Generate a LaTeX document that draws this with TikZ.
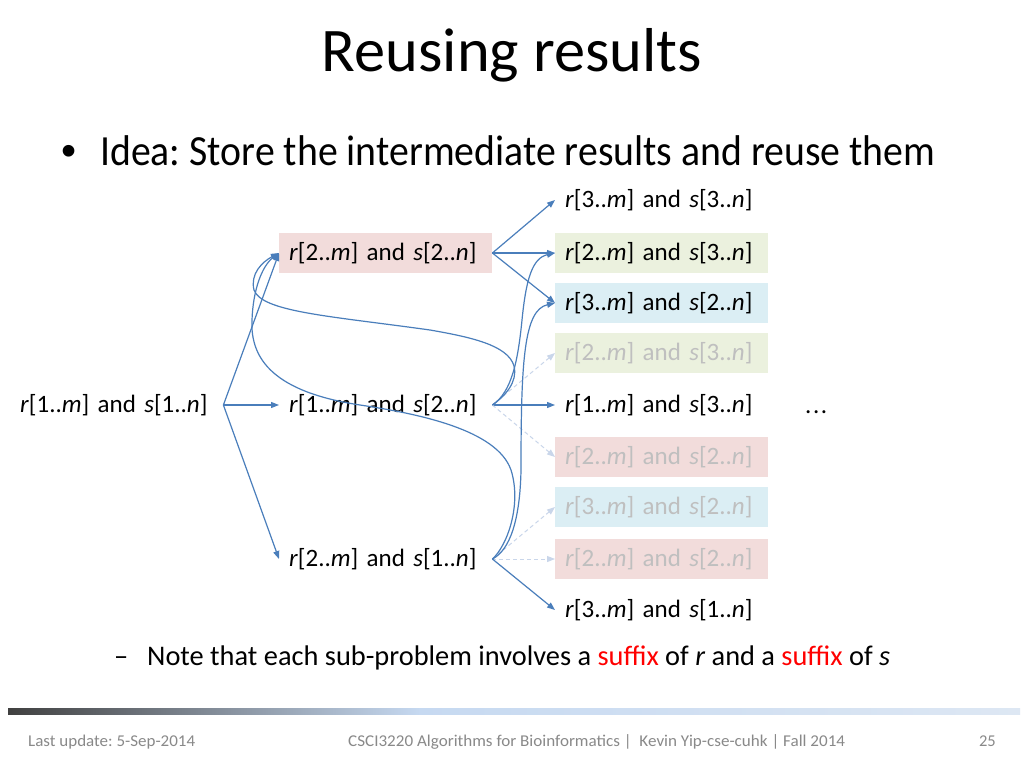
\documentclass[tikz,border=0pt]{standalone}
\usepackage{graphicx}
\usepackage{fontspec}
\setmainfont{Carlito}
\newfontfamily\bulletfont{Liberation Sans}
\usetikzlibrary{arrows.meta}
\definecolor{arr}{HTML}{4A7EBB}
\definecolor{faint}{HTML}{C9D6EA}
\definecolor{pinkbox}{HTML}{F2DCDB}
\definecolor{greenbox}{HTML}{EBF1DE}
\definecolor{bluebox}{HTML}{DBEEF4}
\definecolor{fadetext}{HTML}{BFBFBF}
\definecolor{foot}{HTML}{898989}
\definecolor{barA}{HTML}{404040}
\definecolor{barB}{HTML}{C6D9F1}
\definecolor{barC}{HTML}{DDE7F3}
\newcommand{\rs}[4]{\textit{r}[#1..\textit{m}] and \textit{s}[#3..\textit{n}]}
\frenchspacing
\begin{document}
\begin{tikzpicture}[x=1pt,y=-1pt,
  sub/.style={rectangle, text width=193pt, inner xsep=10pt, inner ysep=0pt,
    minimum height=40pt, align=left, font=\fontsize{25}{30}\selectfont, anchor=west},
  faded/.style={text=fadetext},
  link/.style={draw=arr, line width=1.2pt, -{Triangle[length=8pt,width=6pt]}},
  flink/.style={draw=faint, line width=1pt, dashed, dash pattern=on 4pt off 3pt, -{Triangle[length=8pt,width=6pt]}},
  foottext/.style={text=foot, font=\fontsize{16.5}{20}\selectfont, inner sep=0pt, anchor=base}
]
\useasboundingbox (0,0) rectangle (1024,768);
\fill[white] (0,0) rectangle (1024,768);

% title and bullets
\node[anchor=base, inner sep=0pt, font=\fontsize{62}{70}\selectfont] (title) at (512,71) {\resizebox{380pt}{\height}{Reusing results}};
\node[anchor=base west, inner sep=0pt, font=\bulletfont\fontsize{43}{50}\selectfont] (bul) at (61,165) {•};
\node[anchor=base west, inner sep=0pt, font=\fontsize{43}{52}\selectfont] (idea) at (100,165) {\resizebox{835pt}{\height}{Idea: Store the intermediate results and reuse them}};
\node[anchor=base west, inner sep=0pt, font=\fontsize{28.4}{34}\selectfont] (dash) at (114,665) {–};
\node[anchor=base west, inner sep=0pt, font=\fontsize{28.4}{34}\selectfont] (note) at (147,665) {\resizebox{743pt}{\height}{Note that each sub-problem involves a \textcolor{red}{suffix} of \textit{r} and a \textcolor{red}{suffix} of \textit{s}}};

% nodes
\node[sub] (L) at (10,405) {\rs{1}{m}{1}{n}};
\node[sub, fill=pinkbox] (M1) at (279,253) {\rs{2}{m}{2}{n}};
\node[sub] (M2) at (279,405) {\rs{1}{m}{2}{n}};
\node[sub] (M3) at (279,559) {\rs{2}{m}{1}{n}};
\node[sub] (R1) at (555,200) {\rs{3}{m}{3}{n}};
\node[sub, fill=greenbox] (R2) at (555,253) {\rs{2}{m}{3}{n}};
\node[sub, fill=bluebox] (R3) at (555,303) {\rs{3}{m}{2}{n}};
\node[sub, fill=greenbox, faded] (R4) at (555,353) {\rs{2}{m}{3}{n}};
\node[sub] (R5) at (555,405) {\rs{1}{m}{3}{n}};
\node[sub, fill=pinkbox, faded] (R6) at (555,457) {\rs{2}{m}{2}{n}};
\node[sub, fill=bluebox, faded] (R7) at (555,507) {\rs{3}{m}{2}{n}};
\node[sub, fill=pinkbox, faded] (R8) at (555,559) {\rs{2}{m}{2}{n}};
\node[sub] (R9) at (555,610) {\rs{3}{m}{1}{n}};
\node[anchor=base west, inner sep=0pt, font=\fontsize{25}{30}\selectfont] (dots) at (805,413) {.\kern1.5pt.\kern1.5pt.};

% straight connectors
\draw[link] (L.east) -- (M1.west);
\draw[link] (L.east) -- (M2.west);
\draw[link] (L.east) -- (M3.west);
\draw[link] (M1.east) -- (R1.west);
\draw[link] (M1.east) -- (R2.west);
\draw[link] (M1.east) -- (R3.west);
\draw[flink] (M2.east) -- (R4.west);
\draw[link] (M2.east) -- (R5.west);
\draw[flink] (M2.east) -- (R6.west);
\draw[flink] (M3.east) -- (R7.west);
\draw[flink] (M3.east) -- (R8.west);
\draw[link] (M3.east) -- (R9.west);

% curved connectors (reuse)
\draw[link] (M2.east) .. controls (505,396) and (518,382) .. (514,366)
  .. controls (508,345) and (470,337) .. (430,330)
  .. controls (330,316) and (262,312) .. (254,290)
  .. controls (250,274) and (262,262) .. (M1.west);
\draw[link] (M3.east) .. controls (507,546) and (522,505) .. (511,470)
  .. controls (497,430) and (420,414) .. (360,405)
  .. controls (275,392) and (250,360) .. (252,320)
  .. controls (253,290) and (262,266) .. (M1.west);
\draw[link] (M2.east) .. controls (512,392) and (518,360) .. (522,320)
  .. controls (526,280) and (532,258) .. (R2.west);
\draw[link] (M3.east) .. controls (510,550) and (520,520) .. (521,470)
  .. controls (521,360) and (524,310) .. (R3.west);

% footer
\shade[left color=barA, right color=barB] (8,708) rectangle (420,714);
\shade[left color=barB, right color=barC] (419.5,708) rectangle (1020,714);
\node[foottext, anchor=base west] (upd) at (28,746) {\resizebox{167pt}{\height}{Last update: 5-Sep-2014}};
\node[foottext, anchor=base west] (course) at (348,746) {\resizebox{497pt}{\height}{CSCI3220 Algorithms for Bioinformatics |\ \ Kevin Yip-cse-cuhk | Fall 2014}};
\node[foottext, anchor=base east] (page) at (996,746) {25};
\end{tikzpicture}
\end{document}
